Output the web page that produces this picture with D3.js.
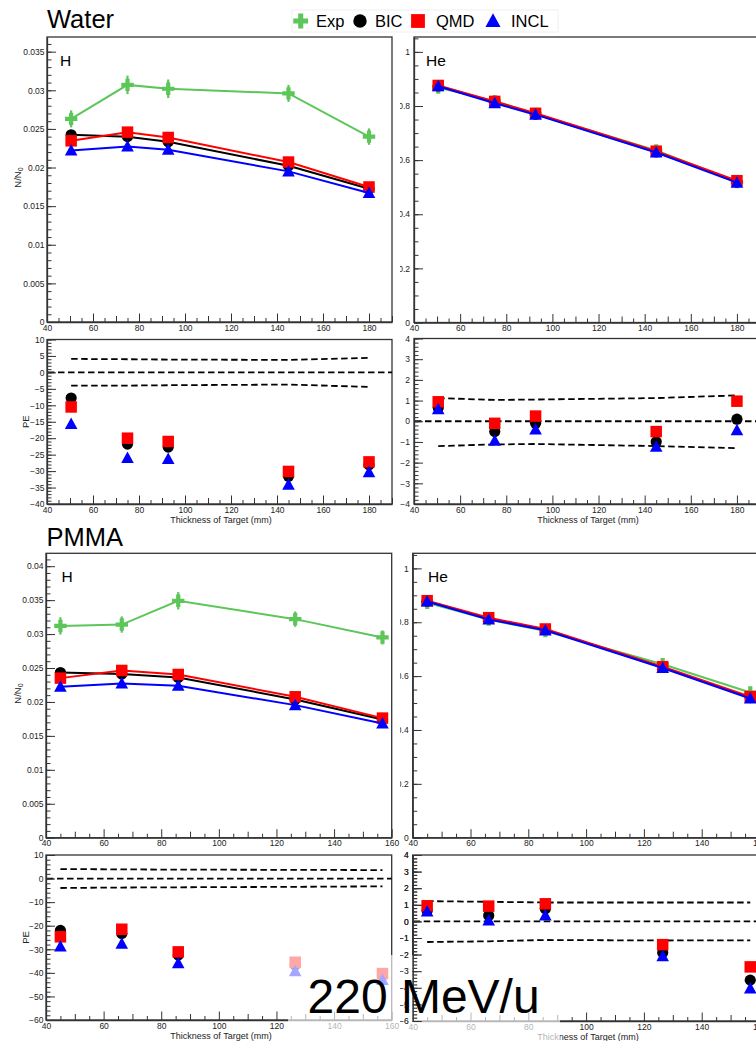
<!DOCTYPE html>
<html>
<head>
<meta charset="utf-8">
<script src="https://cdn.jsdelivr.net/npm/d3@7"></script>
<style>
  body { margin: 0; background: #fff; }
  svg { display: block; font-family: "Liberation Sans", Arial, Helvetica, sans-serif; }
</style>
</head>
<body>
<svg id="fig" width="756" height="1041"></svg>
<script>
// ---------- Target thicknesses (mm) ----------
const thickWater = [50.5, 75, 92.7, 145, 180];
const thickPMMA  = [45, 66.3, 85.9, 126.5, 156.8];

// ---------- Water, H : surviving fraction N/N0 ----------
const waterH_Exp    = [0.0263, 0.0307, 0.0302, 0.0296, 0.0240];
const waterH_ExpErr = [0.0011, 0.0012, 0.0012, 0.0011, 0.00106];
const waterH_BIC    = [0.02424, 0.0240, 0.02333, 0.02023, 0.01726];
const waterH_QMD    = [0.02346, 0.02458, 0.02389, 0.02071, 0.01748];
const waterH_INCL   = [0.0222, 0.02273, 0.0223, 0.0195, 0.0167];
// Water, H : percentage error
const waterH_PE_BIC  = [-7.8, -21.8, -22.7, -31.6, -28.1];
const waterH_PE_QMD  = [-10.5, -20.0, -21.0, -30.1, -27.2];
const waterH_PE_INCL = [-15.7, -26.0, -26.3, -34.1, -30.3];
const waterH_BandUp  = [4.1, 4.0, 3.9, 3.8, 4.4];
const waterH_BandLo  = [-4.0, -4.0, -3.9, -3.7, -4.4];

// ---------- Water, He ----------
const waterHe_Exp    = [0.868, 0.818, 0.771, 0.636, 0.519];
const waterHe_ExpErr = [0.0097, 0.0085, 0.0081, 0.0074, 0.0065];
const waterHe_BIC    = [0.874, 0.814, 0.770, 0.630, 0.5195];
const waterHe_QMD    = [0.876, 0.817, 0.773, 0.633, 0.524];
const waterHe_INCL   = [0.873, 0.810, 0.768, 0.628, 0.517];
const waterHe_PE_BIC  = [0.65, -0.5, -0.1, -0.99, 0.1];
const waterHe_PE_QMD  = [0.94, -0.1, 0.25, -0.5, 0.97];
const waterHe_PE_INCL = [0.58, -0.94, -0.4, -1.23, -0.43];
const waterHe_BandUp  = [1.12, 1.03, 1.05, 1.12, 1.25];
const waterHe_BandLo  = [-1.2, -1.12, -1.10, -1.2, -1.3];

// ---------- PMMA, H ----------
const pmmaH_Exp    = [0.0312, 0.0314, 0.0349, 0.0322, 0.0295];
const pmmaH_ExpErr = [0.00128, 0.0012, 0.00128, 0.00113, 0.00104];
const pmmaH_BIC    = [0.02434, 0.0241, 0.0236, 0.02037, 0.01742];
const pmmaH_QMD    = [0.02351, 0.02464, 0.02405, 0.02076, 0.01762];
const pmmaH_INCL   = [0.02223, 0.02272, 0.02238, 0.01953, 0.01683];
const pmmaH_PE_BIC  = [-22.0, -23.3, -32.4, -36.7, -41.0];
const pmmaH_PE_QMD  = [-24.7, -21.5, -31.1, -35.5, -40.3];
const pmmaH_PE_INCL = [-28.8, -27.6, -35.9, -39.3, -43.0];
const pmmaH_BandUp  = [4.05, 3.9, 3.8, 3.7, 3.6];
const pmmaH_BandLo  = [-4.0, -3.8, -3.7, -3.5, -3.3];

// ---------- PMMA, He ----------
const pmmaHe_Exp    = [0.872, 0.810, 0.767, 0.644, 0.539];
const pmmaHe_ExpErr = [0.0105, 0.0095, 0.0088, 0.0074, 0.0062];
const pmmaHe_BIC    = [0.878, 0.813, 0.773, 0.632, 0.520];
const pmmaHe_QMD    = [0.880, 0.817, 0.775, 0.635, 0.524];
const pmmaHe_INCL   = [0.877, 0.8105, 0.770, 0.630, 0.517];
const pmmaHe_PE_BIC  = [0.66, 0.36, 0.76, -1.88, -3.54];
const pmmaHe_PE_QMD  = [0.94, 0.92, 1.06, -1.4, -2.74];
const pmmaHe_PE_INCL = [0.6, 0.06, 0.36, -2.1, -4.04];
const pmmaHe_BandUp  = [1.22, 1.18, 1.14, 1.14, 1.14];
const pmmaHe_BandLo  = [-1.24, -1.2, -1.12, -1.15, -1.14];

// ---------- Axis ticks ----------
const xTicksWater = [40, 60, 80, 100, 120, 140, 160, 180];
const xTicksPMMA  = [40, 60, 80, 100, 120, 140, 160];
const yTicksWaterH = [0, 0.005, 0.01, 0.015, 0.02, 0.025, 0.03, 0.035];
const yTicksPMMAH  = [0, 0.005, 0.01, 0.015, 0.02, 0.025, 0.03, 0.035, 0.04];
const yTicksHe     = [0, 0.2, 0.4, 0.6, 0.8, 1];
const yTicksWaterH_PE  = [-40, -35, -30, -25, -20, -15, -10, -5, 0, 5, 10];
const yTicksPMMAH_PE   = [-60, -50, -40, -30, -20, -10, 0, 10];
const yTicksWaterHe_PE = [-4, -3, -2, -1, 0, 1, 2, 3, 4];
const yTicksPMMAHe_PE  = [-6, -5, -4, -3, -2, -1, 0, 1, 2, 3, 4];

// ---------- Legend ----------
const seriesNames = ["Exp", "BIC", "QMD", "INCL"];

const COL = { Exp: "#5cc658", BIC: "#000000", QMD: "#ff0000", INCL: "#0000ff" };
const FONT = '"Liberation Sans", Arial, Helvetica, sans-serif';

const svg = d3.select("#fig");
const defs = svg.append("defs");
defs.append("clipPath").attr("id", "clipL").append("rect")
  .attr("x", 0).attr("y", 0).attr("width", 400).attr("height", 1041);
defs.append("clipPath").attr("id", "clipR").append("rect")
  .attr("x", 400).attr("y", 0).attr("width", 356).attr("height", 1041);

// marker shapes
function crossPath(a, t) {
  return `M${-t},${-a}H${t}V${-t}H${a}V${t}H${t}V${a}H${-t}V${t}H${-a}V${-t}H${-t}Z`;
}
function triPath(w, h) {
  return `M0,${-h * 0.56}L${w / 2},${h * 0.44}L${-w / 2},${h * 0.44}Z`;
}
function drawMarker(g, kind, cx, cy, big) {
  const s = big ? 1.2 : 1;
  if (kind === "Exp") {
    g.append("path").attr("d", crossPath(6.2 * s, 2.1 * s))
      .attr("transform", `translate(${cx},${cy})`).attr("fill", COL.Exp);
  } else if (kind === "BIC") {
    g.append("circle").attr("cx", cx).attr("cy", cy).attr("r", 5.6 * s).attr("fill", COL.BIC);
  } else if (kind === "QMD") {
    const a = 11.5 * s;
    g.append("rect").attr("x", cx - a / 2).attr("y", cy - a / 2)
      .attr("width", a).attr("height", a).attr("fill", COL.QMD);
  } else {
    g.append("path").attr("d", triPath(12.6 * s, 11.5 * s))
      .attr("transform", `translate(${cx},${cy})`).attr("fill", COL.INCL);
  }
}

function styleAxis(a) {
  a.attr("font-size", null).attr("font-family", null);
  a.selectAll("text").attr("font-size", 8.5).attr("fill", "#222").attr("font-family", FONT);
  a.selectAll("line").attr("stroke", "#333").attr("stroke-width", 1);
  a.selectAll("path.domain").attr("stroke", "#333").attr("stroke-width", 1.3);
}

const fmtPlain = d => {
  const s = String(+d.toFixed(4));
  return d < 0 ? "\u2212" + s.slice(1) : s;
};

function drawYAxis(g, p, y) {
  const ay = g.append("g").attr("transform", `translate(${p.x0},0)`);
  ay.call(d3.axisLeft(y).tickValues(p.yMinor).tickSize(-4.5).tickSizeOuter(0).tickFormat(""));
  ay.select(".domain").remove();
  styleAxis(ay);
  const am = g.append("g").attr("transform", `translate(${p.x0},0)`);
  am.call(d3.axisLeft(y).tickValues(p.yTicks).tickSize(-9).tickSizeOuter(0)
    .tickPadding(p.side === "R" ? 4 : 2.5).tickFormat(fmtPlain));
  styleAxis(am);
}

function drawXAxis(g, p, x) {
  const at = g.append("g").attr("transform", `translate(0,${p.yBot})`);
  at.call(d3.axisBottom(x).tickValues(p.xMinor).tickSize(-4).tickSizeOuter(0).tickFormat(""));
  at.select(".domain").remove();
  styleAxis(at);
  const amid = g.append("g").attr("transform", `translate(0,${p.yBot})`);
  amid.call(d3.axisBottom(x).tickValues(p.xMid).tickSize(-6).tickSizeOuter(0).tickFormat(""));
  amid.select(".domain").remove();
  styleAxis(amid);
  const am = g.append("g").attr("transform", `translate(0,${p.yBot})`);
  am.call(d3.axisBottom(x).tickValues(p.xTicks).tickSize(-8.5).tickSizeOuter(0)
    .tickPadding(2.5).tickFormat(d3.format("d")));
  styleAxis(am);
}

function drawPanel(p) {
  const g = svg.append("g").attr("clip-path", `url(#clip${p.side})`);
  const x = d3.scaleLinear().domain(p.xDom).range([p.x0, p.x1]);
  const y = d3.scaleLinear().domain(p.yDom).range([p.yBot, p.yTop]);
  p.g = g; p.x = x; p.y = y;

  // frame
  g.append("rect").attr("x", p.x0).attr("y", p.yTop)
    .attr("width", p.x1 - p.x0).attr("height", p.yBot - p.yTop)
    .attr("fill", "none").attr("stroke", "#333").attr("stroke-width", 1.3);

  const layer = g.append("g");
  if (p.kind === "yield") {
    const line = d3.line().x((d, i) => x(p.xs[i])).y(d => y(d));
    // experimental points with error bars
    layer.append("path").datum(p.exp).attr("d", line)
      .attr("fill", "none").attr("stroke", COL.Exp).attr("stroke-width", 2);
    p.exp.forEach((v, i) => {
      layer.append("line")
        .attr("x1", x(p.xs[i])).attr("x2", x(p.xs[i]))
        .attr("y1", y(v - p.expErr[i])).attr("y2", y(v + p.expErr[i]))
        .attr("stroke", COL.Exp).attr("stroke-width", 2.2);
      drawMarker(layer, "Exp", x(p.xs[i]), y(v));
    });
    // model curves
    [["BIC", p.bic], ["QMD", p.qmd], ["INCL", p.incl]].forEach(([name, vals]) => {
      layer.append("path").datum(vals).attr("d", line)
        .attr("fill", "none").attr("stroke", COL[name]).attr("stroke-width", 2);
      vals.forEach((v, i) => drawMarker(layer, name, x(p.xs[i]), y(v)));
    });
  } else {
    const line = d3.line().x((d, i) => x(p.xs[i])).y(d => y(d));
    const dash = "6.5,3.5";
    [p.bandUp, p.bandLo].forEach(b => {
      layer.append("path").datum(b).attr("d", line).attr("fill", "none")
        .attr("stroke", "#000").attr("stroke-width", 1.8).attr("stroke-dasharray", dash);
    });
    layer.append("line").attr("x1", x(p.xDom[0]) + 1).attr("x2", x(p.xDom[1]))
      .attr("y1", y(0)).attr("y2", y(0))
      .attr("stroke", "#000").attr("stroke-width", 1.8).attr("stroke-dasharray", dash);
    [["BIC", p.bic], ["QMD", p.qmd], ["INCL", p.incl]].forEach(([name, vals]) => {
      vals.forEach((v, i) => drawMarker(layer, name, x(p.xs[i]), y(v)));
    });
  }

  drawXAxis(g, p, x);
  drawYAxis(g, p, y);

  // species tag
  if (p.tag) {
    g.append("text").attr("x", p.tagX).attr("y", p.tagY).text(p.tag)
      .attr("font-size", 15.5).attr("fill", "#000");
  }
  // axis titles
  if (p.yTitle === "NN0") {
    const cx = 20.5, cy = (p.yTop + p.yBot) / 2 - 2;
    const t = g.append("text").attr("transform", `translate(${cx},${cy}) rotate(-90)`)
      .attr("text-anchor", "middle").attr("font-size", 9.5).attr("fill", "#222");
    t.append("tspan").text("N/N");
    t.append("tspan").text("0").attr("font-size", 7).attr("dy", 2.5);
  } else if (p.yTitle === "PE") {
    g.append("text").attr("transform", `translate(28.5,${(p.yTop + p.yBot) / 2}) rotate(-90)`)
      .attr("text-anchor", "middle").attr("font-size", 9.5).attr("fill", "#222").text("PE");
  }
  if (p.xTitle) {
    const cx = p.side === "L" ? 221 : 588;
    g.append("text").attr("x", cx).attr("y", p.yBot + 19).attr("text-anchor", "middle")
      .attr("font-size", 9).attr("fill", "#222").text("Thickness of Target (mm)");
  }
  return p;
}

const rangeStep = (a, b, s) => d3.range(a, b + s / 2, s).map(v => +v.toFixed(6));
const waterX = { xDom: [40, 190], xTicks: xTicksWater, xMid: rangeStep(50, 190, 20), xMinor: rangeStep(45, 185, 10) };
const pmmaX  = { xDom: [40, 160], xTicks: xTicksPMMA,  xMid: rangeStep(50, 150, 20), xMinor: rangeStep(45, 155, 10) };

const panels = [
  Object.assign({ side: "L", kind: "yield", x0: 47, x1: 392, yTop: 37, yBot: 322, yDom: [0, 0.0369],
    yTicks: yTicksWaterH, yMinor: rangeStep(0, 0.036, 0.001), xs: thickWater,
    exp: waterH_Exp, expErr: waterH_ExpErr, bic: waterH_BIC, qmd: waterH_QMD, incl: waterH_INCL,
    tag: "H", tagX: 60, tagY: 66, yTitle: "NN0" }, waterX),
  Object.assign({ side: "R", kind: "yield", x0: 414, x1: 760, yTop: 37, yBot: 322.5, yDom: [0, 1.055],
    yTicks: yTicksHe, yMinor: rangeStep(0, 1.05, 0.05), xs: thickWater,
    exp: waterHe_Exp, expErr: waterHe_ExpErr, bic: waterHe_BIC, qmd: waterHe_QMD, incl: waterHe_INCL,
    tag: "He", tagX: 426, tagY: 66 }, waterX),
  Object.assign({ side: "L", kind: "pe", x0: 47, x1: 392, yTop: 339.5, yBot: 504, yDom: [-40, 10],
    yTicks: yTicksWaterH_PE, yMinor: rangeStep(-40, 10, 1), xs: thickWater,
    bic: waterH_PE_BIC, qmd: waterH_PE_QMD, incl: waterH_PE_INCL,
    bandUp: waterH_BandUp, bandLo: waterH_BandLo, yTitle: "PE", xTitle: true }, waterX),
  Object.assign({ side: "R", kind: "pe", x0: 414, x1: 760, yTop: 338.5, yBot: 504, yDom: [-4, 4],
    yTicks: yTicksWaterHe_PE, yMinor: rangeStep(-4, 4, 0.2), xs: thickWater,
    bic: waterHe_PE_BIC, qmd: waterHe_PE_QMD, incl: waterHe_PE_INCL,
    bandUp: waterHe_BandUp, bandLo: waterHe_BandLo, xTitle: true }, waterX),
  Object.assign({ side: "L", kind: "yield", x0: 46, x1: 391.7, yTop: 553.3, yBot: 837.7, yDom: [0, 0.0419],
    yTicks: yTicksPMMAH, yMinor: rangeStep(0, 0.041, 0.001), xs: thickPMMA,
    exp: pmmaH_Exp, expErr: pmmaH_ExpErr, bic: pmmaH_BIC, qmd: pmmaH_QMD, incl: pmmaH_INCL,
    tag: "H", tagX: 61.5, tagY: 581.5, yTitle: "NN0" }, pmmaX),
  Object.assign({ side: "R", kind: "yield", x0: 412.7, x1: 759.5, yTop: 553.3, yBot: 837.7, yDom: [0, 1.056],
    yTicks: yTicksHe, yMinor: rangeStep(0, 1.05, 0.05), xs: thickPMMA,
    exp: pmmaHe_Exp, expErr: pmmaHe_ExpErr, bic: pmmaHe_BIC, qmd: pmmaHe_QMD, incl: pmmaHe_INCL,
    tag: "He", tagX: 428, tagY: 581.5 }, pmmaX),
  Object.assign({ side: "L", kind: "pe", x0: 46, x1: 391.7, yTop: 855, yBot: 1020, yDom: [-60, 10],
    yTicks: yTicksPMMAH_PE, yMinor: rangeStep(-60, 10, 2), xs: thickPMMA,
    bic: pmmaH_PE_BIC, qmd: pmmaH_PE_QMD, incl: pmmaH_PE_INCL,
    bandUp: pmmaH_BandUp, bandLo: pmmaH_BandLo, yTitle: "PE", xTitle: true }, pmmaX),
  Object.assign({ side: "R", kind: "pe", x0: 412.7, x1: 759.5, yTop: 855, yBot: 1021, yDom: [-6, 4],
    yTicks: yTicksPMMAHe_PE, yMinor: rangeStep(-6, 4, 0.2), xs: thickPMMA,
    bic: pmmaHe_PE_BIC, qmd: pmmaHe_PE_QMD, incl: pmmaHe_PE_INCL,
    bandUp: pmmaHe_BandUp, bandLo: pmmaHe_BandLo, xTitle: true }, pmmaX)
];

panels.forEach(drawPanel);

// ---------- Section titles ----------
svg.append("text").attr("x", 47).attr("y", 27.5).attr("font-size", 25.5).attr("fill", "#000").text("Water");
svg.append("text").attr("x", 46.5).attr("y", 546).attr("font-size", 25.5).attr("fill", "#000").text("PMMA");

// ---------- Legend ----------
const leg = svg.append("g");
leg.append("rect").attr("x", 292).attr("y", 10).attr("width", 266).attr("height", 22)
  .attr("fill", "#fff").attr("stroke", "#f0f0f0").attr("stroke-width", 1);
const legMarkX = [300.7, 360, 418, 493];
const legTextX = [316, 375, 436, 511];
seriesNames.forEach((name, i) => {
  drawMarker(leg, name, legMarkX[i], 21, true);
  leg.append("text").attr("x", legTextX[i]).attr("y", 26.5).attr("font-size", 16.5)
    .attr("fill", "#000").text(name);
});

// ---------- Beam energy label ----------
svg.append("rect").attr("x", 288).attr("y", 955).attr("width", 272).attr("height", 86)
  .attr("fill", "#fff").attr("fill-opacity", 0.65);
// the He percentage-error pad keeps its vertical axis above the label box
{
  const p = panels[7];
  const g = svg.append("g").attr("clip-path", "url(#clipR)");
  drawYAxis(g, p, p.y);
}
svg.append("text").attr("x", 307.5).attr("y", 1013).attr("font-size", 48).attr("fill", "#000")
  .text("220 MeV/u");
</script>
</body>
</html>
